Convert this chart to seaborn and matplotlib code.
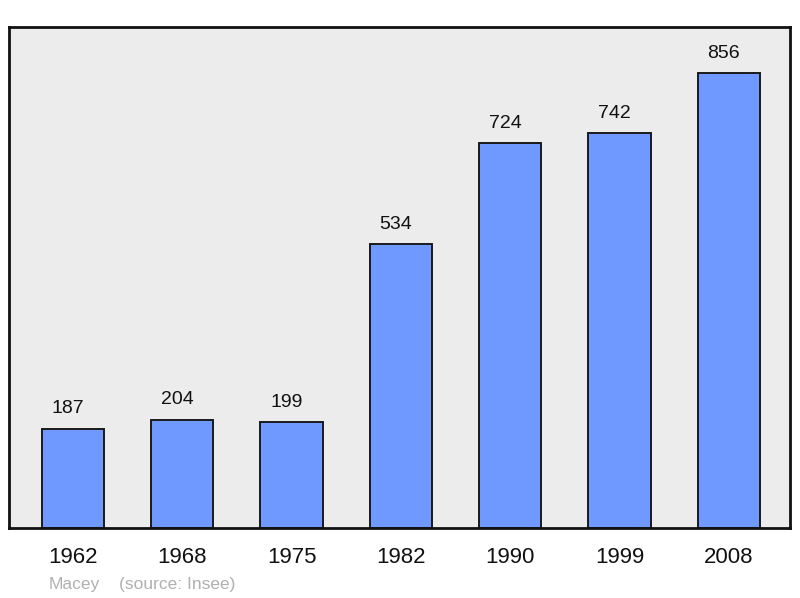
import matplotlib
matplotlib.use('Agg')
import matplotlib.pyplot as plt
import seaborn as sns
import pandas as pd

# population data (Macey, source: Insee)
years = ['1962', '1968', '1975', '1982', '1990', '1999', '2008']
population = [187, 204, 199, 534, 724, 742, 856]

df = pd.DataFrame({'year': years, 'pop': population})

sns.set_style('white')
plt.rcParams['font.family'] = ['Liberation Sans', 'DejaVu Sans']

fig = plt.figure(figsize=(8, 5.98), dpi=100)
ax = fig.add_axes([9 / 800, 1 - 528 / 598, 781 / 800, 501 / 598])
ax.set_facecolor('#ececec')

sns.barplot(data=df, x='year', y='pop', color='#7099ff', saturation=1,
            width=0.57, edgecolor='#1a1a1a', linewidth=1.4, ax=ax)

for c in ax.containers:
    labels = ax.bar_label(c, padding=8, fontsize=14, color='#111111')
    # les étiquettes sont un peu décalées vers la gauche dans l'original
    for t in labels:
        t.xyann = (-3.5, 8)

ax.set_xlim(-0.585, 6.56)
ax.set_ylim(0, 942)
ax.set_yticks([])
ax.set_xlabel('')
ax.set_ylabel('')
ax.tick_params(axis='x', length=0, pad=14, labelsize=16, colors='#111111')
for s in ax.spines.values():
    s.set_visible(True)
    s.set_color('#111111')
    s.set_linewidth(2)

fig.text(49 / 800, 1 - 584 / 598, 'Macey', color='#b0b0b0', fontsize=12.5,
         va='center', ha='left')
fig.text(119 / 800, 1 - 584 / 598, '(source: Insee)', color='#b0b0b0',
         fontsize=12.5, va='center', ha='left')

fig.savefig('out.png', dpi=100)
